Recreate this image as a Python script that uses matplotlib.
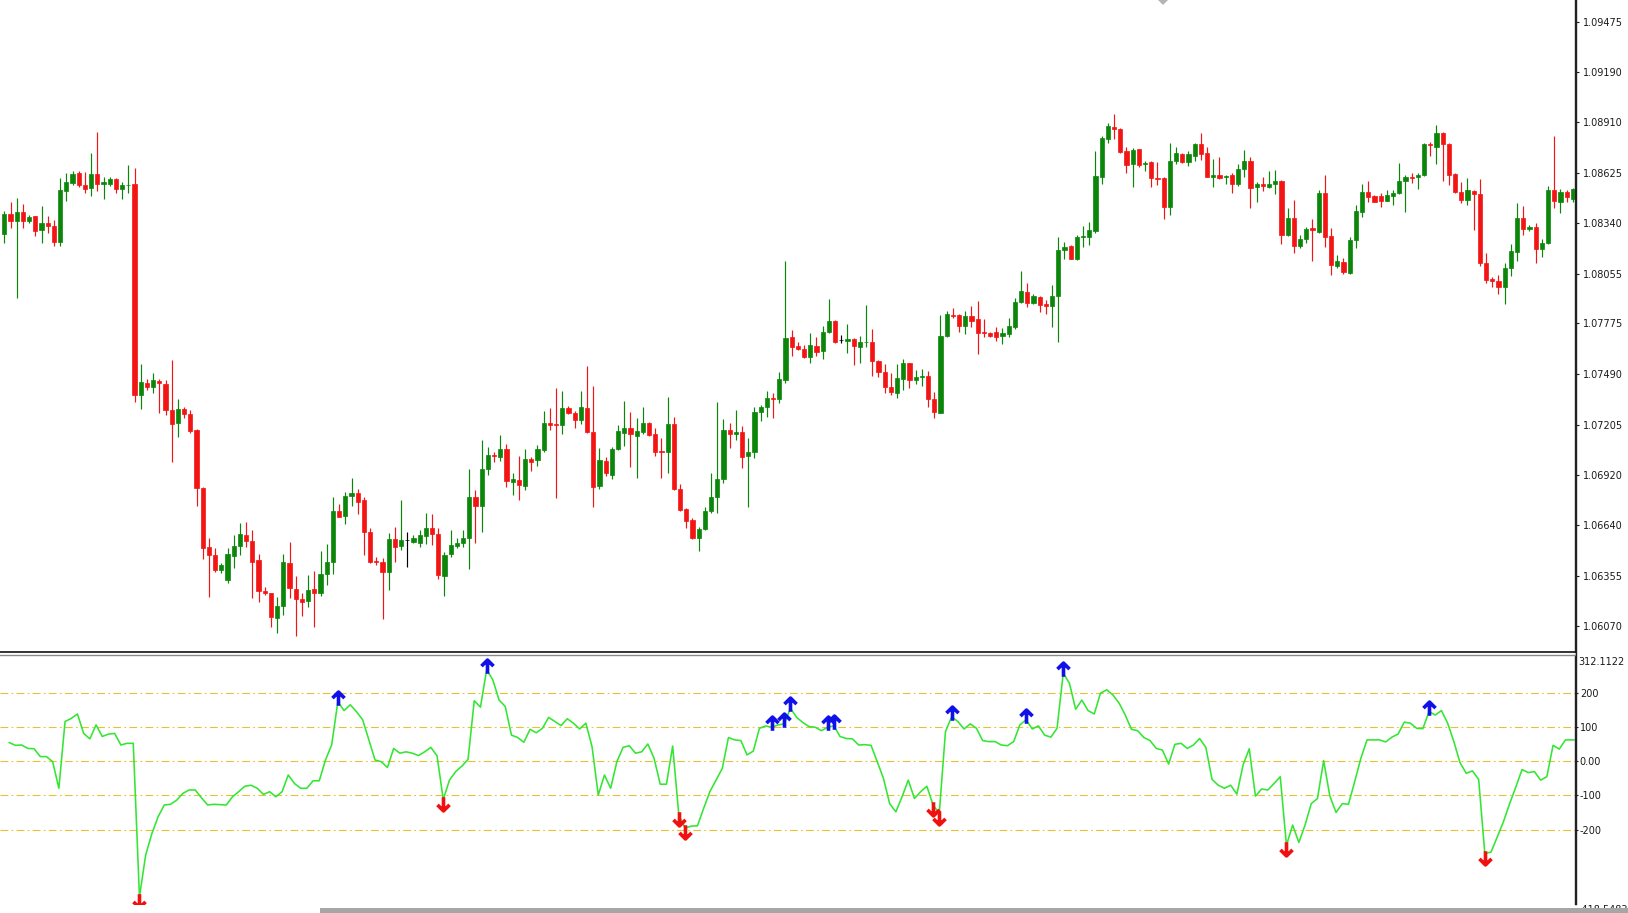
import numpy as np
import matplotlib
matplotlib.use("Agg")
import matplotlib.pyplot as plt
from matplotlib.path import Path
from matplotlib.patches import Rectangle, Polygon
from matplotlib.lines import Line2D

# ---------------- data ----------------
opens = [
1.08277, 1.08392, 1.08354, 1.08403, 1.08354, 1.08379, 1.08302, 1.08339, 1.08326, 1.08236,
1.08524, 1.08565, 1.08625, 1.08557, 1.08540, 1.08617, 1.08559, 1.08563, 1.08591, 1.08535,
1.08554, 1.08563, 1.07372, 1.07440, 1.07417, 1.07451, 1.07434, 1.07288, 1.07216, 1.07295,
1.07265, 1.07175, 1.06850, 1.06518, 1.06471, 1.06386, 1.06330, 1.06467, 1.06521, 1.06583,
1.06551, 1.06442, 1.06270, 1.06255, 1.06114, 1.06183, 1.06424, 1.06277, 1.06223, 1.06213,
1.06277, 1.06255, 1.06362, 1.06433, 1.06719, 1.06692, 1.06803, 1.06818, 1.06781, 1.06602,
1.06437, 1.06429, 1.06377, 1.06559, 1.06523, 1.06553, 1.06546, 1.06540, 1.06580, 1.06621,
1.06589, 1.06354, 1.06476, 1.06521, 1.06540, 1.06565, 1.06797, 1.06749, 1.06953, 1.07034,
1.07025, 1.07066, 1.06884, 1.06893, 1.06861, 1.07010, 1.07006, 1.07062, 1.07216, 1.07209,
1.07203, 1.07297, 1.07273, 1.07231, 1.07297, 1.07164, 1.06859, 1.07000, 1.06921, 1.07066,
1.07156, 1.07184, 1.07141, 1.07166, 1.07214, 1.07152, 1.07059, 1.07049, 1.07209, 1.06843,
1.06728, 1.06668, 1.06568, 1.06615, 1.06719, 1.06796, 1.06897, 1.07175, 1.07152, 1.07164,
1.07028, 1.07053, 1.07275, 1.07303, 1.07353, 1.07348, 1.07457, 1.07697, 1.07648, 1.07630,
1.07588, 1.07648, 1.07622, 1.07725, 1.07791, 1.07682, 1.07676, 1.07688, 1.07645, 1.07669,
1.07673, 1.07566, 1.07504, 1.07419, 1.07385, 1.07462, 1.07551, 1.07457, 1.07472, 1.07479,
1.07350, 1.07273, 1.07705, 1.07823, 1.07823, 1.07761, 1.07817, 1.07800, 1.07725, 1.07722,
1.07725, 1.07707, 1.07714, 1.07757, 1.07898, 1.07954, 1.07889, 1.07926, 1.07883, 1.07876,
1.07930, 1.08187, 1.08212, 1.08137, 1.08261, 1.08264, 1.08296, 1.08599, 1.08815, 1.08884,
1.08873, 1.08747, 1.08672, 1.08756, 1.08672, 1.08685, 1.08597, 1.08597, 1.08433, 1.08691,
1.08730, 1.08687, 1.08721, 1.08786, 1.08734, 1.08602, 1.08610, 1.08599, 1.08612, 1.08559,
1.08646, 1.08691, 1.08542, 1.08559, 1.08542, 1.08561, 1.08580, 1.08274, 1.08368, 1.08214,
1.08251, 1.08311, 1.08292, 1.08512, 1.08268, 1.08101, 1.08122, 1.08058, 1.08246, 1.08405,
1.08516, 1.08493, 1.08495, 1.08467, 1.08495, 1.08512, 1.08580, 1.08602, 1.08599, 1.08612,
1.08786, 1.08771, 1.08846, 1.08786, 1.08617, 1.08518, 1.08471, 1.08523, 1.08503, 1.08114,
1.08024, 1.08016, 1.07983, 1.08086, 1.08180, 1.08368, 1.08306, 1.08317, 1.08193, 1.08227,
1.08527, 1.08461, 1.08516, 1.08475]

highs = [
1.08411, 1.08462, 1.08480, 1.08448, 1.08385, 1.08383, 1.08437, 1.08383, 1.08358, 1.08593,
1.08625, 1.08636, 1.08636, 1.08631, 1.08734, 1.08854, 1.08602, 1.08602, 1.08595, 1.08574,
1.08668, 1.08649, 1.07547, 1.07460, 1.07494, 1.07464, 1.07457, 1.07569, 1.07350, 1.07303,
1.07288, 1.07182, 1.06856, 1.06565, 1.06512, 1.06424, 1.06508, 1.06583, 1.06649, 1.06658,
1.06612, 1.06476, 1.06288, 1.06258, 1.06232, 1.06476, 1.06542, 1.06354, 1.06255, 1.06358,
1.06382, 1.06495, 1.06531, 1.06799, 1.06758, 1.06827, 1.06903, 1.06841, 1.06799, 1.06621,
1.06461, 1.06452, 1.06593, 1.06627, 1.06781, 1.06602, 1.06583, 1.06612, 1.06705, 1.06700,
1.06625, 1.06489, 1.06612, 1.06565, 1.06612, 1.06955, 1.06837, 1.07119, 1.07081, 1.07053,
1.07147, 1.07094, 1.06931, 1.07028, 1.07070, 1.07021, 1.07090, 1.07282, 1.07301, 1.07414,
1.07395, 1.07310, 1.07282, 1.07395, 1.07536, 1.07423, 1.07072, 1.07021, 1.07077, 1.07203,
1.07340, 1.07278, 1.07241, 1.07303, 1.07222, 1.07184, 1.07132, 1.07359, 1.07246, 1.06871,
1.06734, 1.06677, 1.06630, 1.06743, 1.06931, 1.07335, 1.07237, 1.07216, 1.07288, 1.07198,
1.07128, 1.07306, 1.07316, 1.07397, 1.07382, 1.07500, 1.08127, 1.07738, 1.07669, 1.07654,
1.07720, 1.07701, 1.07763, 1.07911, 1.07795, 1.07708, 1.07772, 1.07695, 1.07707, 1.07877,
1.07744, 1.07569, 1.07547, 1.07494, 1.07547, 1.07575, 1.07554, 1.07513, 1.07519, 1.07509,
1.07391, 1.07823, 1.07847, 1.07861, 1.07829, 1.07847, 1.07874, 1.07904, 1.07799, 1.07729,
1.07753, 1.07748, 1.07804, 1.07917, 1.08073, 1.08001, 1.07941, 1.07932, 1.07907, 1.07992,
1.08261, 1.08232, 1.08217, 1.08274, 1.08326, 1.08345, 1.08749, 1.08832, 1.08907, 1.08954,
1.08878, 1.08771, 1.08766, 1.08760, 1.08693, 1.08691, 1.08687, 1.08599, 1.08790, 1.08768,
1.08734, 1.08747, 1.08794, 1.08846, 1.08768, 1.08702, 1.08711, 1.08612, 1.08625, 1.08674,
1.08753, 1.08711, 1.08574, 1.08599, 1.08636, 1.08640, 1.08583, 1.08424, 1.08471, 1.08274,
1.08317, 1.08362, 1.08527, 1.08612, 1.08315, 1.08161, 1.08142, 1.08264, 1.08443, 1.08559,
1.08580, 1.08499, 1.08508, 1.08527, 1.08527, 1.08677, 1.08612, 1.08625, 1.08621, 1.08790,
1.08800, 1.08893, 1.08852, 1.08790, 1.08621, 1.08570, 1.08593, 1.08527, 1.08589, 1.08174,
1.08039, 1.08048, 1.08114, 1.08223, 1.08456, 1.08437, 1.08330, 1.08343, 1.08249, 1.08552,
1.08832, 1.08531, 1.08527, 1.08537]

lows = [
1.08227, 1.08311, 1.07921, 1.08311, 1.08339, 1.08268, 1.08231, 1.08287, 1.08212, 1.08212,
1.08467, 1.08555, 1.08542, 1.08512, 1.08495, 1.08524, 1.08477, 1.08550, 1.08512, 1.08475,
1.08512, 1.07335, 1.07291, 1.07400, 1.07385, 1.07269, 1.07259, 1.06993, 1.07137, 1.07244,
1.07156, 1.06747, 1.06446, 1.06232, 1.06377, 1.06371, 1.06311, 1.06396, 1.06471, 1.06518,
1.06226, 1.06208, 1.06245, 1.06067, 1.06029, 1.06133, 1.06226, 1.06014, 1.06129, 1.06176,
1.06067, 1.06241, 1.06302, 1.06362, 1.06683, 1.06645, 1.06749, 1.06702, 1.06471, 1.06424,
1.06414, 1.06108, 1.06273, 1.06433, 1.06499, 1.06405, 1.06536, 1.06518, 1.06531, 1.06527,
1.06333, 1.06242, 1.06461, 1.06508, 1.06518, 1.06390, 1.06536, 1.06602, 1.06921, 1.06997,
1.07000, 1.06856, 1.06809, 1.06781, 1.06837, 1.06946, 1.06972, 1.07053, 1.07175, 1.06790,
1.07151, 1.07265, 1.07188, 1.07209, 1.07156, 1.06743, 1.06841, 1.06916, 1.06899, 1.07062,
1.07087, 1.06968, 1.06903, 1.07151, 1.07141, 1.07028, 1.06903, 1.06931, 1.06837, 1.06720,
1.06621, 1.06559, 1.06495, 1.06612, 1.06709, 1.06709, 1.06874, 1.07072, 1.07119, 1.06959,
1.06743, 1.07019, 1.07228, 1.07250, 1.07241, 1.07325, 1.07438, 1.07592, 1.07626, 1.07579,
1.07554, 1.07592, 1.07575, 1.07720, 1.07663, 1.07663, 1.07607, 1.07541, 1.07551, 1.07645,
1.07481, 1.07475, 1.07382, 1.07372, 1.07353, 1.07400, 1.07414, 1.07434, 1.07425, 1.07306,
1.07244, 1.07273, 1.07701, 1.07804, 1.07729, 1.07716, 1.07753, 1.07603, 1.07701, 1.07697,
1.07678, 1.07660, 1.07701, 1.07742, 1.07889, 1.07870, 1.07883, 1.07842, 1.07829, 1.07757,
1.07673, 1.08138, 1.08138, 1.08133, 1.08208, 1.08217, 1.08283, 1.08561, 1.08790, 1.08813,
1.08734, 1.08621, 1.08546, 1.08659, 1.08634, 1.08546, 1.08555, 1.08362, 1.08386, 1.08672,
1.08681, 1.08664, 1.08691, 1.08696, 1.08599, 1.08542, 1.08589, 1.08559, 1.08512, 1.08552,
1.08599, 1.08428, 1.08461, 1.08522, 1.08537, 1.08503, 1.08223, 1.08268, 1.08174, 1.08199,
1.08227, 1.08129, 1.08287, 1.08208, 1.08048, 1.08090, 1.08054, 1.08054, 1.08199, 1.08377,
1.08461, 1.08458, 1.08433, 1.08467, 1.08443, 1.08505, 1.08405, 1.08569, 1.08533, 1.08606,
1.08719, 1.08674, 1.08580, 1.08555, 1.08512, 1.08452, 1.08443, 1.08302, 1.08099, 1.08001,
1.07983, 1.07941, 1.07885, 1.08043, 1.08129, 1.08274, 1.08298, 1.08114, 1.08148, 1.08223,
1.08424, 1.08400, 1.08461, 1.08461]

closes = [
1.08390, 1.08354, 1.08403, 1.08354, 1.08375, 1.08298, 1.08339, 1.08324, 1.08236, 1.08527,
1.08570, 1.08617, 1.08557, 1.08531, 1.08617, 1.08561, 1.08572, 1.08587, 1.08533, 1.08555,
1.08557, 1.07372, 1.07444, 1.07417, 1.07455, 1.07438, 1.07288, 1.07209, 1.07293, 1.07265,
1.07171, 1.06846, 1.06512, 1.06471, 1.06386, 1.06414, 1.06476, 1.06521, 1.06587, 1.06550,
1.06433, 1.06270, 1.06255, 1.06119, 1.06183, 1.06429, 1.06283, 1.06221, 1.06208, 1.06273,
1.06258, 1.06362, 1.06429, 1.06719, 1.06687, 1.06805, 1.06818, 1.06771, 1.06602, 1.06433,
1.06431, 1.06377, 1.06561, 1.06518, 1.06555, 1.06553, 1.06568, 1.06583, 1.06625, 1.06587,
1.06358, 1.06471, 1.06527, 1.06540, 1.06568, 1.06799, 1.06747, 1.06953, 1.07034, 1.07028,
1.07066, 1.06889, 1.06897, 1.06865, 1.07013, 1.06993, 1.07066, 1.07216, 1.07203, 1.07203,
1.07297, 1.07273, 1.07231, 1.07303, 1.07164, 1.06856, 1.07006, 1.06931, 1.07070, 1.07169,
1.07184, 1.07151, 1.07169, 1.07214, 1.07147, 1.07053, 1.07053, 1.07207, 1.06841, 1.06724,
1.06664, 1.06568, 1.06617, 1.06720, 1.06799, 1.06899, 1.07175, 1.07151, 1.07164, 1.07025,
1.07053, 1.07278, 1.07303, 1.07353, 1.07348, 1.07462, 1.07691, 1.07645, 1.07631, 1.07588,
1.07654, 1.07616, 1.07727, 1.07789, 1.07673, 1.07682, 1.07688, 1.07648, 1.07669, 1.07673,
1.07566, 1.07504, 1.07419, 1.07391, 1.07470, 1.07551, 1.07457, 1.07475, 1.07479, 1.07352,
1.07278, 1.07707, 1.07829, 1.07817, 1.07761, 1.07817, 1.07791, 1.07720, 1.07720, 1.07707,
1.07701, 1.07722, 1.07763, 1.07896, 1.07960, 1.07892, 1.07932, 1.07881, 1.07876, 1.07930,
1.08189, 1.08208, 1.08138, 1.08264, 1.08268, 1.08302, 1.08606, 1.08822, 1.08890, 1.08871,
1.08741, 1.08668, 1.08753, 1.08668, 1.08681, 1.08597, 1.08591, 1.08433, 1.08691, 1.08734,
1.08687, 1.08730, 1.08786, 1.08730, 1.08602, 1.08610, 1.08597, 1.08606, 1.08561, 1.08646,
1.08691, 1.08537, 1.08559, 1.08552, 1.08561, 1.08580, 1.08274, 1.08368, 1.08212, 1.08251,
1.08306, 1.08302, 1.08512, 1.08264, 1.08105, 1.08127, 1.08063, 1.08246, 1.08411, 1.08516,
1.08490, 1.08461, 1.08467, 1.08497, 1.08512, 1.08580, 1.08602, 1.08597, 1.08612, 1.08786,
1.08781, 1.08846, 1.08785, 1.08612, 1.08516, 1.08471, 1.08527, 1.08503, 1.08114, 1.08020,
1.08014, 1.07983, 1.08086, 1.08185, 1.08368, 1.08306, 1.08321, 1.08193, 1.08230, 1.08527,
1.08465, 1.08518, 1.08490, 1.08531]

cci = [
55, 47, 48, 38, 37, 14, 14, -1, -79, 117,
126, 139, 82, 66, 107, 73, 80, 82, 48, 53,
53, -398, -275, -212, -163, -128, -126, -114, -94, -84,
-84, -107, -128, -126, -127, -128, -104, -89, -73, -70,
-79, -97, -89, -104, -89, -40, -65, -79, -79, -57,
-57, 4, 48, 175, 149, 166, 146, 122, 63, 4,
-1, -18, 38, 24, 28, 24, 17, 28, 41, 16,
-112, -55, -30, -14, 6, 178, 159, 269, 239, 180,
161, 77, 70, 56, 94, 84, 97, 129, 117, 105,
125, 112, 95, 112, 43, -99, -40, -79, -1, 41,
46, 24, 28, 51, 9, -67, -67, 45, -158, -196,
-190, -189, -138, -89, -55, -21, 70, 63, 61, 19,
30, 97, 104, 100, 107, 110, 156, 129, 114, 102,
100, 90, 100, 104, 73, 67, 66, 48, 49, 47,
-1, -50, -124, -148, -104, -55, -109, -89, -73, -128,
-153, 87, 131, 117, 95, 110, 97, 61, 58, 58,
48, 46, 58, 107, 122, 95, 104, 77, 71, 97,
259, 229, 153, 180, 149, 139, 200, 210, 195, 171,
136, 94, 90, 70, 61, 38, 33, -8, 50, 53,
38, 48, 67, 41, -53, -70, -79, -70, -96, -11,
37, -102, -81, -84, -65, -45, -246, -187, -238, -187,
-124, -109, 2, -102, -150, -124, -126, -60, 9, 63,
63, 63, 57, 71, 80, 115, 112, 97, 96, 146,
136, 149, 112, 58, -4, -35, -28, -53, -271, -266,
-222, -177, -124, -75, -24, -33, -30, -55, -45, 47,
36, 63, 63, 63]

up_signals = [53, 77, 123, 125, 126, 132, 133, 152, 164, 170, 229]
down_signals = [21, 70, 108, 109, 149, 150, 206, 238]

price_ticks = [1.09475, 1.09190, 1.08910, 1.08625, 1.08340, 1.08055, 1.07775,
               1.07490, 1.07205, 1.06920, 1.06640, 1.06355, 1.06070]
price_tick_labels = ["1.09475", "1.09190", "1.08910", "1.08625", "1.08340", "1.08055",
                     "1.07775", "1.07490", "1.07205", "1.06920", "1.06640", "1.06355",
                     "1.06070"]
price_range = (1.059240, 1.095978)

cci_levels = [200, 100, 0, -100, -200]
cci_level_labels = ["200", "100", "0.00", "-100", "-200"]
cci_range = (-418.5483, 312.1122)

assert len(opens) == len(highs) == len(lows) == len(closes) == len(cci) == 254

# ---------------- styling ----------------
GREEN = "#0b860b"
RED = "#f31414"
LINE = "#33e633"
LEVEL = "#e6c230"
BLUE_ARROW = "#1010e8"
RED_ARROW = "#f01010"

W, H = 1628, 913
fig = plt.figure(figsize=(W / 100, H / 100), dpi=100, facecolor="white")
plt.rcParams["font.family"] = ["DejaVu Sans"]


def box(x0, y0, x1, y1):
    return [x0 / W, 1 - y1 / H, (x1 - x0) / W, (y1 - y0) / H]


ax = fig.add_axes(box(0, 0, 1575, 652))
ax2 = fig.add_axes(box(0, 655, 1575, 904))

n = len(opens)
x = np.arange(n)
o = np.array(opens)
h = np.array(highs)
l = np.array(lows)
c = np.array(closes)
cols = np.where(c > o, GREEN, np.where(c < o, RED, "black"))

xlim = (-0.694, 253.34)
# the indicator window in the reference is drawn ~0.8 bar to the right of the candles
ind_shift = 0.8
xlim2 = (xlim[0] - ind_shift, xlim[1] - ind_shift)

# candles
ax.vlines(x, l, h, colors=cols, linewidth=0.85, zorder=2)
ax.bar(x, np.abs(c - o), width=0.66, bottom=np.minimum(o, c), color=cols,
       edgecolor=cols, linewidth=0.5, zorder=3)
ax.set_xlim(*xlim)
ax.set_ylim(*price_range)
ax.set_xticks([])
ax.yaxis.tick_right()
ax.set_yticks(price_ticks)
ax.set_yticklabels(price_tick_labels)
ax.tick_params(axis="y", direction="out", length=3, width=0.8, pad=3,
               labelsize=7, colors="#1a1a1a")
for s in ("left", "top"):
    ax.spines[s].set_visible(False)
ax.spines["right"].set_color("#222222")
ax.spines["right"].set_linewidth(1.0)
ax.spines["bottom"].set_color("#111111")
ax.spines["bottom"].set_linewidth(1.2)

# indicator
for lv in cci_levels:
    ax2.axhline(lv, color=LEVEL, linewidth=0.8, linestyle=(0, (7, 3, 1.5, 3)), zorder=1)
ax2.plot(x, cci, color=LINE, linewidth=1.15, zorder=3)

up_path = Path([(0, -3), (0, 9.5), (-5.5, 4), (0, 9.5), (5.5, 4)],
               [Path.MOVETO, Path.LINETO, Path.MOVETO, Path.LINETO, Path.LINETO])
down_path = Path([(0, 3), (0, -9.5), (-5.5, -4), (0, -9.5), (5.5, -4)],
                 [Path.MOVETO, Path.LINETO, Path.MOVETO, Path.LINETO, Path.LINETO])
cci_arr = np.array(cci)
ax2.plot(up_signals, cci_arr[up_signals], linestyle="none", marker=up_path,
         markersize=15.0, markeredgewidth=2.6, markeredgecolor=BLUE_ARROW,
         markerfacecolor="none", zorder=4)
ax2.plot(down_signals, cci_arr[down_signals], linestyle="none", marker=down_path,
         markersize=15.0, markeredgewidth=2.6, markeredgecolor=RED_ARROW,
         markerfacecolor="none", zorder=4)

ax2.set_xlim(*xlim2)
ax2.set_ylim(*cci_range)
ax2.set_xticks([])
ax2.yaxis.tick_right()
ax2.set_yticks(cci_levels)
ax2.set_yticklabels(cci_level_labels)
ax2.tick_params(axis="y", direction="out", length=2, width=0.8, pad=1.5,
                labelsize=7, colors="#1a1a1a")
for s in ("left", "bottom"):
    ax2.spines[s].set_visible(False)
ax2.spines["top"].set_color("#8a8a8a")
ax2.spines["top"].set_linewidth(1.0)
ax2.spines["right"].set_color("#222222")
ax2.spines["right"].set_linewidth(1.0)
ax2.annotate(f"{cci_range[1]:.4f}", xy=(1, cci_range[1]), xycoords=("axes fraction", "data"),
             xytext=(2.5, -1.5), textcoords="offset points", va="top", ha="left",
             fontsize=7, color="#1a1a1a")
ax2.annotate(f"{cci_range[0]:.4f}", xy=(1, cci_range[0]), xycoords=("axes fraction", "data"),
             xytext=(2.5, -4.5), textcoords="offset points", va="center", ha="left",
             fontsize=7, color="#1a1a1a", annotation_clip=False)

# right axis line continuous between panels
fig.add_artist(Line2D([1575.5 / W, 1575.5 / W], [1 - 904 / H, 1.0],
                      transform=fig.transFigure, color="#222222", linewidth=1.0))

# scrollbar at the bottom
fig.patches.append(Rectangle((320 / W, 0), (W - 320) / W, 5.5 / H,
                             transform=fig.transFigure, facecolor="#a6a6a6",
                             edgecolor="none", zorder=10))
# chart-shift marker at the top
fig.patches.append(Polygon([[1158 / W, 1.0], [1168 / W, 1.0], [1163 / W, 1 - 5 / H]],
                           closed=True, transform=fig.transFigure,
                           facecolor="#b4b4b4", edgecolor="none", zorder=10))

fig.savefig("out.png", dpi=100, facecolor="white")
